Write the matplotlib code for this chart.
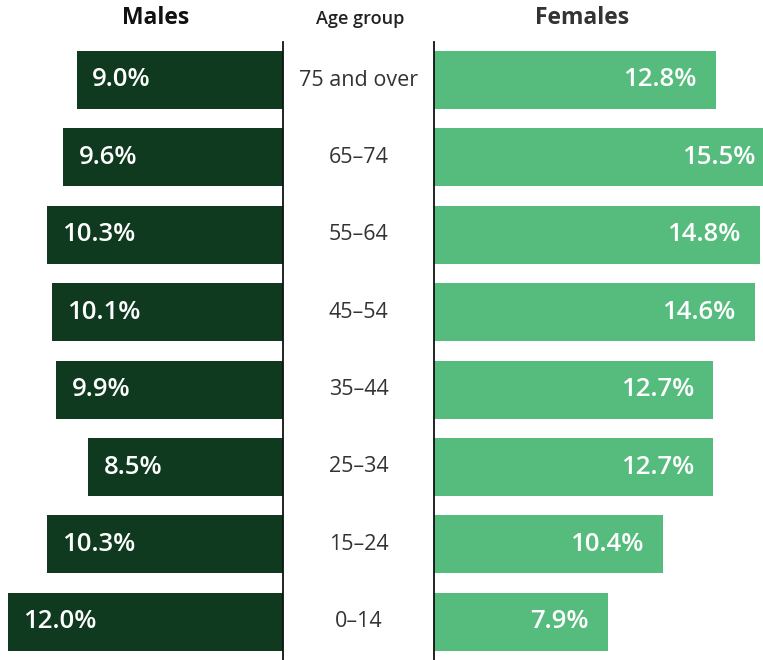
import matplotlib
matplotlib.use("Agg")
import matplotlib.pyplot as plt

# data (top row first)
age_groups = ["75 and over", "65–74", "55–64", "45–54", "35–44", "25–34", "15–24", "0–14"]
males = [9.0, 9.6, 10.3, 10.1, 9.9, 8.5, 10.3, 12.0]
females = [12.8, 15.5, 14.8, 14.6, 12.7, 12.7, 10.4, 7.9]

DARK = "#0F3A1F"
LIGHT = "#56BC7E"
W, H = 763, 660

plt.rcParams["font.family"] = ["Open Sans", "DejaVu Sans"]

fig = plt.figure(figsize=(W / 100, H / 100), dpi=100)
fig.patch.set_facecolor("white")

# row geometry in pixels
row0, step = 80, 77.4
ylim = ((H - row0) / step, -row0 / step)
ypos = list(range(len(age_groups)))

left_x, right_x = 283, 434

axL = fig.add_axes([0, 0, left_x / W, 1])
axR = fig.add_axes([right_x / W, 0, (W - right_x) / W, 1])

axL.barh(ypos, males, height=0.75, color=DARK)
axL.set_xlim(left_x / 22.9, 0)
axL.set_ylim(*ylim)
for y, v in zip(ypos, males):
    axL.annotate(f"{v:.1f}%", (v, y), xytext=(11, 0), textcoords="offset points",
                 ha="left", va="center", color="white", fontsize=18.5, fontweight="semibold")

axR.barh(ypos, females, height=0.75, color=LIGHT)
axR.set_xlim(0, (W - right_x) / 22.0)
axR.set_ylim(*ylim)
for y, v in zip(ypos, females):
    axR.annotate(f"{v:.1f}%", (v, y), xytext=(-14, 0), textcoords="offset points",
                 ha="right", va="center", color="white", fontsize=18.5, fontweight="semibold",
                 annotation_clip=False)

for ax in (axL, axR):
    ax.axis("off")

# center column labels
for y, lab in zip(ypos, age_groups):
    fig.text((left_x + right_x) / 2 / W, 1 - (row0 + y * step) / H, lab,
             ha="center", va="center", fontsize=15.5, color="#333333")

# divider lines
for x in (left_x, right_x):
    fig.add_artist(plt.Line2D([x / W, x / W], [0, 1 - 42 / H], color="#111111", lw=1.3))

# headers
fig.text(156 / W, 1 - 18 / H, "Males", ha="center", va="center", fontsize=16.5, fontweight="bold", color="#111111")
fig.text(360 / W, 1 - 19 / H, "Age group", ha="center", va="center", fontsize=13, fontweight="semibold", color="#222222")
fig.text(582 / W, 1 - 18 / H, "Females", ha="center", va="center", fontsize=16.5, fontweight="bold", color="#333333")

fig.savefig("out.png", dpi=100, facecolor="white")
